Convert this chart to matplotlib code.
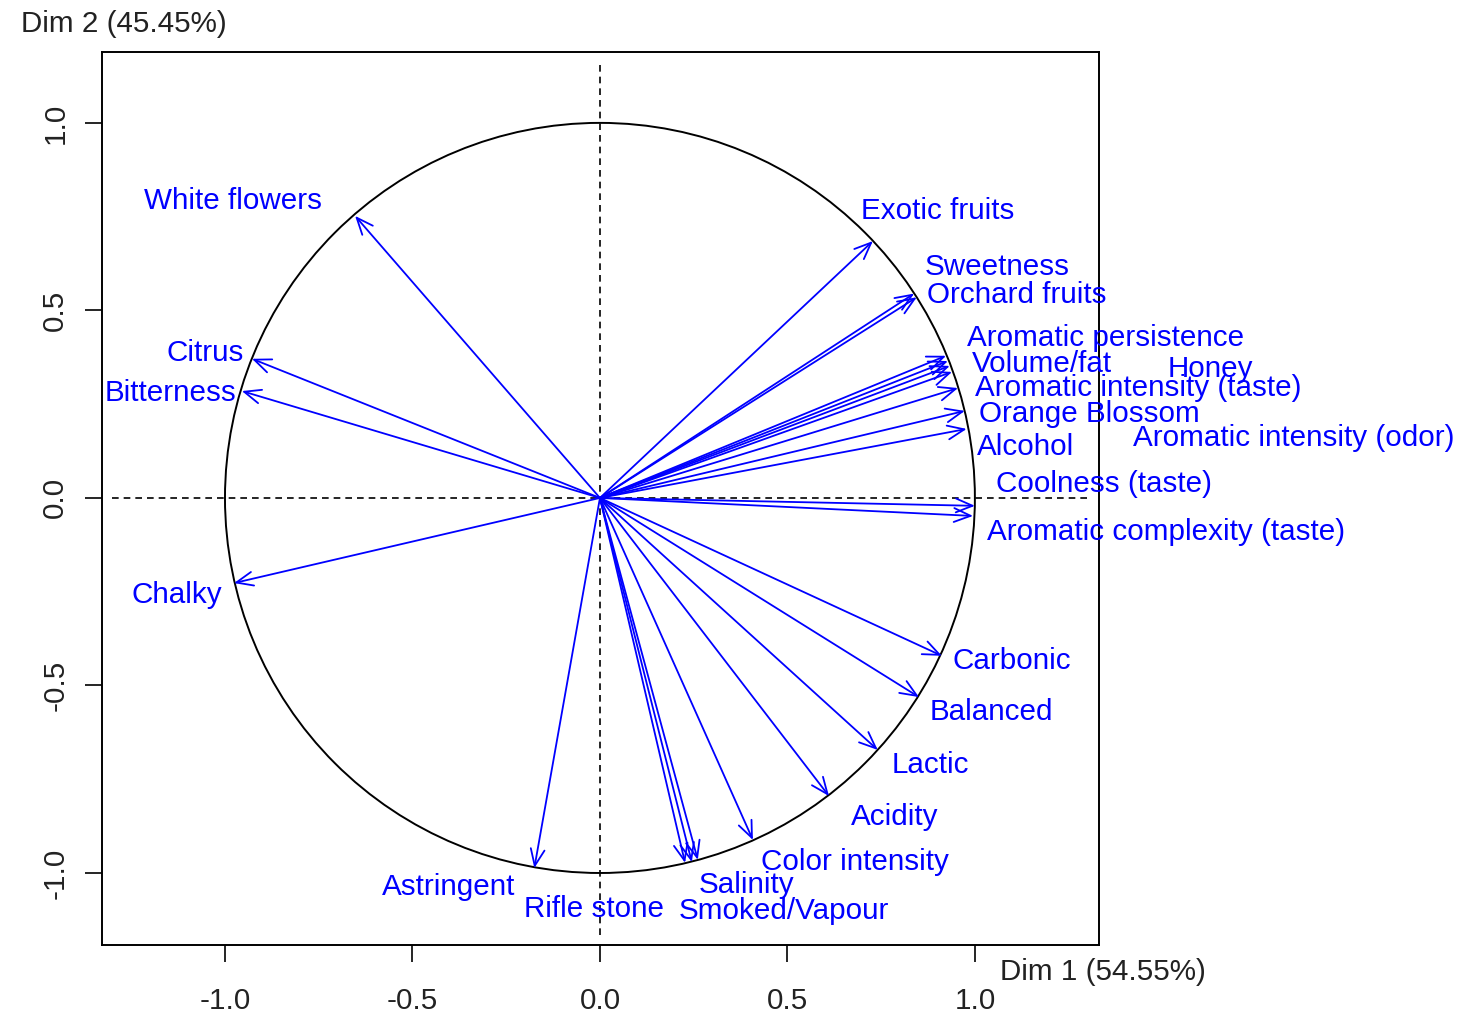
import numpy as np
import matplotlib
matplotlib.use("Agg")
import matplotlib.pyplot as plt
from matplotlib.patches import FancyArrowPatch, Circle

plt.rcParams['font.family'] = ['Liberation Sans', 'DejaVu Sans']

# Variable coordinates on the first two dimensions
variables = [
    "White flowers", "Citrus", "Bitterness", "Chalky", "Astringent",
    "Rifle stone", "Smoked/Vapour", "Salinity", "Color intensity", "Acidity",
    "Lactic", "Balanced", "Carbonic", "Coolness (taste)",
    "Aromatic complexity (taste)", "Alcohol", "Orange Blossom",
    "Aromatic intensity (taste)", "Aromatic intensity (odor)", "Honey",
    "Volume/fat", "Aromatic persistence", "Orchard fruits", "Sweetness",
    "Exotic fruits",
]
dim1 = [-0.653, -0.928, -0.955, -0.976, -0.175,
        0.227, 0.245, 0.261, 0.408, 0.611,
        0.741, 0.851, 0.912, 1.000,
        0.995, 0.978, 0.973,
        0.955, 0.939, 0.933,
        0.928, 0.923, 0.845, 0.838,
        0.728]
dim2 = [0.752, 0.371, 0.285, -0.227, -0.987,
        -0.973, -0.971, -0.965, -0.912, -0.795,
        -0.672, -0.531, -0.421, -0.021,
        -0.048, 0.184, 0.232,
        0.293, 0.336, 0.352,
        0.365, 0.379, 0.535, 0.545,
        0.685]

# Label anchor points (data units)
label_x = [-0.979, -1.053, -1.144, -1.128, -0.403,
           -0.015, 0.490, 0.390, 0.680, 0.787,
           0.880, 1.045, 1.099, 1.344,
           1.509, 1.136, 1.304,
           1.435, 1.851, 1.627,
           1.179, 1.349, 1.112, 1.059,
           0.901]
label_y = [0.792, 0.386, 0.280, -0.259, -1.038,
           -1.096, -1.101, -1.032, -0.971, -0.851,
           -0.712, -0.571, -0.435, 0.037,
           -0.091, 0.136, 0.224,
           0.293, 0.160, 0.344,
           0.357, 0.426, 0.541, 0.616,
           0.765]

x_ticks = [-1.0, -0.5, 0.0, 0.5, 1.0]
y_ticks = [-1.0, -0.5, 0.0, 0.5, 1.0]
xlabel = "Dim 1 (54.55%)"
ylabel = "Dim 2 (45.45%)"

FS = 21.3
W, H = 1462, 1019
fig = plt.figure(figsize=(W / 100, H / 100), dpi=100)
ax = fig.add_axes([102 / W, 1 - 945 / H, (1099 - 102) / W, (945 - 52) / H])
ax.set_xlim(-1.328, 1.331)
ax.set_ylim(-1.192, 1.189)

blue = "#0000FF"

# Unit circle and reference lines
ax.add_patch(Circle((0, 0), 1.0, fill=False, ec="black", lw=1.4, zorder=2))
ax.plot([-1.30, 1.307], [0, 0], ls=(0, (4, 3)), color="black", lw=1.2, zorder=1)
ax.plot([0, 0], [-1.165, 1.168], ls=(0, (4, 3)), color="black", lw=1.2, zorder=1)

for name, x, y, lx, ly in zip(variables, dim1, dim2, label_x, label_y):
    arr = FancyArrowPatch((0, 0), (x, y),
                          arrowstyle="->,head_length=0.6,head_width=0.25",
                          mutation_scale=20, color=blue, lw=1.3,
                          shrinkA=0, shrinkB=0, zorder=3)
    ax.add_patch(arr)
    ax.text(lx, ly, name, color=blue, fontsize=FS,
            ha="center", va="center", zorder=4)

ax.set_xticks(x_ticks)
ax.set_yticks(y_ticks)
ax.set_xticklabels([f"{t:.1f}" for t in x_ticks])
ax.set_yticklabels([f"{t:.1f}" for t in y_ticks], rotation=90, va="center")
ax.tick_params(axis="both", direction="out", length=12.5, width=1.2,
               labelsize=FS, colors="black", labelcolor="#222222")
ax.tick_params(axis="x", pad=18)
ax.tick_params(axis="y", pad=11)
ax.xaxis.set_ticks_position("bottom")
ax.yaxis.set_ticks_position("left")
for s in ax.spines.values():
    s.set_linewidth(1.4)
    s.set_color("black")

fig.text(1103 / W, 1 - 972 / H, xlabel, fontsize=FS, ha="center", va="center",
         color="#222222")
fig.text(124 / W, 1 - 24 / H, ylabel, fontsize=FS, ha="center", va="center",
         color="#222222")

fig.savefig("out.png", dpi=100)
